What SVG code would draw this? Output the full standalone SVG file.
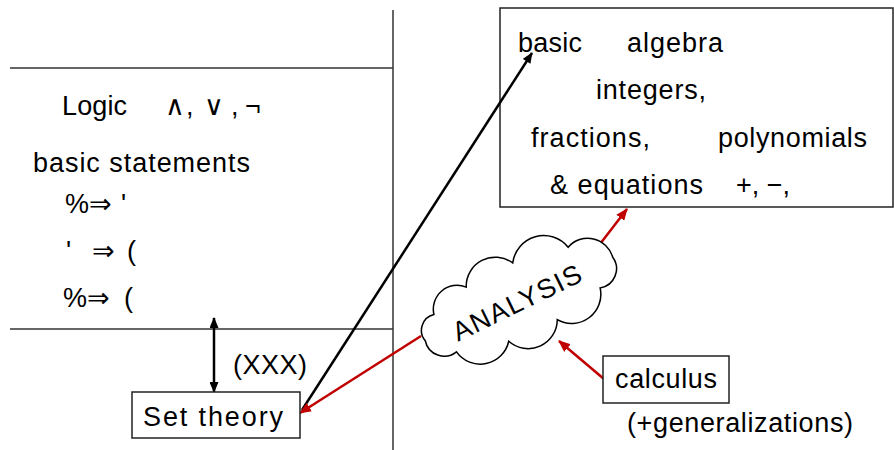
<svg xmlns="http://www.w3.org/2000/svg" width="894" height="450" viewBox="0 0 894 450">
<style>
text{font-family:"Liberation Sans",Arial,"DejaVu Sans",sans-serif;font-size:27px;fill:#000}
.frame{stroke:#333;stroke-width:1.5;fill:none}
.box{stroke:#222;stroke-width:1.5;fill:#fff}
.blk{stroke:#000;stroke-width:2.5;fill:none}
.red{stroke:#c00000;stroke-width:2.5;fill:none}
</style>
<defs>
<marker id="ab" viewBox="0 0 12 10" refX="11" refY="5" markerWidth="12" markerHeight="9" markerUnits="userSpaceOnUse" orient="auto-start-reverse"><path d="M0,0 L12,5 L0,10 z" fill="#000"/></marker>
<marker id="ar" viewBox="0 0 12 10" refX="11" refY="5" markerWidth="12" markerHeight="10" markerUnits="userSpaceOnUse" orient="auto-start-reverse"><path d="M0,0 L12,5 L0,10 z" fill="#c00000"/></marker>
</defs>
<g id="frame">
<line class="frame" x1="393" y1="10" x2="393" y2="450"/>
<line class="frame" x1="10" y1="68" x2="393" y2="68"/>
<line class="frame" x1="10" y1="329" x2="393" y2="329"/>
</g>
<g id="logic">
<text x="62" y="115" textLength="65" lengthAdjust="spacing">Logic</text>
<text y="115"><tspan x="165">∧</tspan><tspan x="186">,</tspan><tspan x="204">∨</tspan><tspan x="231">,</tspan><tspan x="245">¬</tspan></text>
<text x="33" y="172" textLength="217" lengthAdjust="spacing">basic statements</text>
<text y="213"><tspan x="65">%</tspan><tspan x="89">⇒</tspan><tspan x="121">'</tspan></text>
<text y="260"><tspan x="66">'</tspan><tspan x="92">⇒</tspan><tspan x="127">(</tspan></text>
<text y="307"><tspan x="63">%</tspan><tspan x="87">⇒</tspan><tspan x="124">(</tspan></text>
</g>
<g id="algebra">
<rect class="box" x="500" y="8" width="393" height="199"/>
<text x="518" y="52" textLength="64" lengthAdjust="spacing">basic</text>
<text x="627" y="52" textLength="96" lengthAdjust="spacing">algebra</text>
<text x="596" y="99" textLength="110" lengthAdjust="spacing">integers,</text>
<text x="531" y="147" textLength="119" lengthAdjust="spacing">fractions,</text>
<text x="718" y="147" textLength="149" lengthAdjust="spacing">polynomials</text>
<text x="550" y="194" textLength="153" lengthAdjust="spacing">&amp; equations</text>
<text x="736" y="194">+, −,</text>
</g>
<g id="connectors">
<line class="blk" x1="214" y1="318" x2="214" y2="392" marker-start="url(#ab)" marker-end="url(#ab)"/>
<line class="blk" x1="302" y1="410" x2="532" y2="53" marker-end="url(#ab)"/>
<line class="red" x1="421" y1="336" x2="300" y2="413" marker-end="url(#ar)"/>
<line class="red" x1="600" y1="244" x2="627" y2="209" marker-end="url(#ar)"/>
<line class="red" x1="604" y1="379" x2="559" y2="341" marker-end="url(#ar)"/>
</g>
<g id="xxx">
<text x="233" y="374" textLength="74" lengthAdjust="spacing">(XXX)</text>
</g>
<g id="settheory">
<rect class="box" x="132" y="392" width="168" height="46"/>
<text x="143" y="426" textLength="140" lengthAdjust="spacing">Set theory</text>
</g>
<g id="analysis">
<path transform="translate(519,299) rotate(-24) scale(1.08)" fill="#fff" stroke="#000" stroke-width="1.4" d="M95,0 A18,18 0 0 1 72.8,21.2 A27,27 0 0 1 24.6,31.9 A27,27 0 0 1 -24.6,31.9 A27,27 0 0 1 -72.8,21.2 A18,18 0 0 1 -95,0 A15,15 0 0 1 -77.8,-18.9 A22,22 0 0 1 -40.2,-29.9 A27,27 0 0 1 8.3,-32.9 A29,29 0 0 1 61.1,-25.3 A24,24 0 0 1 95,0 Z"/>
<text transform="translate(521,311) rotate(-26)" x="0" y="0" text-anchor="middle" font-size="26" textLength="140" lengthAdjust="spacing">ANALYSIS</text>
</g>
<g id="calculus">
<rect class="box" x="603" y="356" width="126" height="47"/>
<text x="615" y="388" textLength="102" lengthAdjust="spacing">calculus</text>
</g>
<g id="generalizations">
<text x="627" y="432" textLength="226" lengthAdjust="spacing">(+generalizations)</text>
</g>
</svg>
